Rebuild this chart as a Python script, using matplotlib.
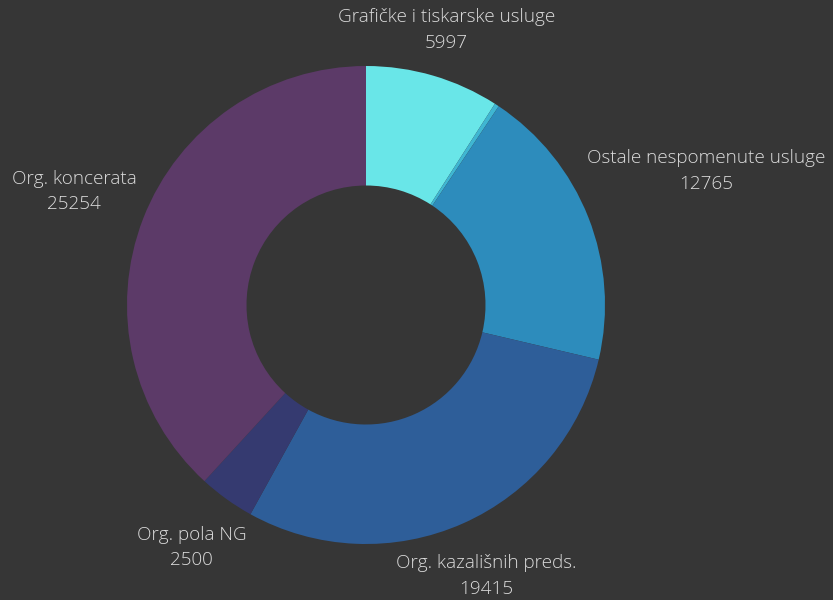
import matplotlib
matplotlib.use("Agg")
import matplotlib.pyplot as plt
import numpy as np

# data
labels = ["Grafičke i tiskarske usluge", "", "Ostale nespomenute usluge",
          "Org. kazališnih preds.", "Org. pola NG", "Org. koncerata"]
values = [5997, 200, 12765, 19415, 2500, 25254]
colors = ["#69e6e8", "#3fb6d2", "#2d8cbc", "#2e5e99", "#353a70", "#5c3a68"]
# radial distance of each label (in outer radii)
label_r = [1.20, 1.2, 1.53, 1.24, 1.25, 1.31]

BG = "#363636"
TXT = "#dcdcdc"

fig = plt.figure(figsize=(8.33, 6), dpi=100, facecolor=BG)
ax = fig.add_axes([0, 0, 1, 1])
ax.set_facecolor(BG)

wedges, _ = ax.pie(values, colors=colors, startangle=90, counterclock=False,
                   radius=1.0, wedgeprops=dict(width=0.5, linewidth=0))

# put the ring centre where it is in the reference
R = 239.0
cx, cy = 366.0, 305.0
ax.set_aspect("auto")
ax.set_xlim(-cx / R, (833 - cx) / R)
ax.set_ylim(-(600 - cy) / R, cy / R)
ax.axis("off")

for w, lab, val, r in zip(wedges, labels, values, label_r):
    if not lab:
        continue
    ang = np.deg2rad((w.theta1 + w.theta2) / 2)
    x, y = r * np.cos(ang), r * np.sin(ang)
    ax.text(x, y, f"{lab}\n{val}", ha="center", va="center", color=TXT,
            fontsize=13.6, family=["Open Sans", "DejaVu Sans"], fontweight="light",
            linespacing=1.55)

fig.savefig("out.png", dpi=100, facecolor=BG)
